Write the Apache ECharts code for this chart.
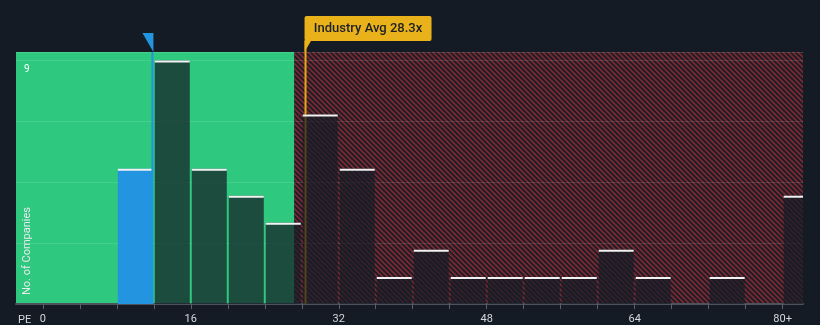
<!DOCTYPE html>
<html><head><meta charset="utf-8">
<script src="https://cdn.jsdelivr.net/npm/echarts@6/dist/echarts.min.js"></script>
<style>html,body{margin:0;padding:0;background:#151b24}#c{width:820px;height:325px}</style>
</head><body><div id="c"></div>
<script>
// ---- data ----
const binLow  = [8, 12, 16, 20, 24, 28, 32, 36, 40, 44, 48, 52, 56, 60, 64, 68, 72, 76, 80];
const binHigh = [12, 16, 20, 24, 28, 32, 36, 40, 44, 48, 52, 56, 60, 64, 68, 72, 76, 80, 84];
const counts  = [5, 9, 5, 4, 3, 7, 5, 1, 2, 1, 1, 1, 1, 2, 1, 0, 1, 0, 4];
const highlightBin = 0;
const companyPE = 11.85;
const industryAvg = 28.3;
const fairZoneEnd = 27.2;
const xMin = -2.9, xMax = 82.2;
const yMax = 9.31;
const xTickValues = [0, 4, 8, 12, 16, 20, 24, 28, 32, 36, 40, 44, 48, 52, 56, 60, 64, 68, 72, 76, 80];
const xLabelValues = [0, 16, 32, 48, 64, 80];
const yLabelValues = [9];

// ---- hatch pattern ----
function hatch() {
  const p = 5, cv = document.createElement('canvas');
  cv.width = p; cv.height = p;
  const ctx = cv.getContext('2d');
  const img = ctx.createImageData(p, p);
  const R = [118, 40, 50], D = [30, 29, 38];
  for (let j = 0; j < p; j++) for (let i = 0; i < p; i++) {
    const k = (j * p + i) * 4;
    const m = ((i - j) % p + p) % p;
    const t = m < 2 ? 1 : (m === 2 ? 0.5 : 0);
    for (let c = 0; c < 3; c++) img.data[k + c] = Math.round(R[c] * t + D[c] * (1 - t));
    img.data[k + 3] = 255;
  }
  ctx.putImageData(img, 0, 0);
  return cv;
}
const hatchPattern = { image: hatch(), repeat: 'repeat' };

const chart = echarts.init(document.getElementById('c'), null, { renderer: 'canvas' });
const barData = binLow.map((l, i) => [l, binHigh[i], counts[i], i === highlightBin ? 1 : 0]);

function clipR(r, cs) {
  return echarts.graphic.clipRectByRect(r, { x: cs.x, y: cs.y, width: cs.width, height: cs.height });
}

chart.setOption({
  backgroundColor: '#151b24',
  animation: false,
  grid: { left: 16, right: 17, top: 52, bottom: 21 },
  xAxis: {
    type: 'value', min: xMin, max: xMax,
    axisLine: { show: true, lineStyle: { color: '#4d525b', width: 2 } },
    axisTick: { show: true, customValues: xTickValues, length: 5, lineStyle: { color: '#5b6069', width: 1 } },
    axisLabel: { customValues: xLabelValues, color: '#d5d9de', fontSize: 11, fontFamily: 'Roboto', margin: 10,
      formatter: v => v === 80 ? '80+' : String(v) },
    splitLine: { show: false }
  },
  yAxis: {
    type: 'value', min: 0, max: yMax, interval: 2.25,
    axisLine: { show: false }, axisTick: { show: false },
    axisLabel: { inside: true, color: '#ffffff', fontSize: 10, fontFamily: 'Roboto', margin: 8,
      verticalAlign: 'top', padding: [4, 0, 0, 0],
      formatter: v => yLabelValues.indexOf(v) >= 0 ? String(v) : '' },
    splitLine: { show: true, lineStyle: { color: 'rgba(255,255,255,0.12)', width: 1 } }
  },
  graphic: [
    { type: 'text', left: 18, top: 315, style: { text: 'PE', fill: '#d5d9de', font: '11px Roboto' } },
    { type: 'text', x: 27, y: 251, rotation: Math.PI / 2,
      style: { text: 'No. of Companies', fill: '#e8eaed', font: '11px Roboto', align: 'center', verticalAlign: 'middle' } }
  ],
  series: [
    { // zones background
      type: 'custom', z: -1, silent: true,
      data: [[xMin, fairZoneEnd, 0], [fairZoneEnd, xMax, 1]],
      renderItem: (params, api) => {
        const p0 = api.coord([api.value(0), yMax]);
        const p1 = api.coord([api.value(1), 0]);
        const r = clipR({ x: p0[0], y: p0[1], width: p1[0] - p0[0], height: p1[1] - p0[1] }, params.coordSys);
        return { type: 'rect', shape: r, style: { fill: api.value(2) === 0 ? '#2ec87f' : hatchPattern } };
      }
    },
    { // industry avg line (under bars)
      type: 'custom', z: 1, silent: true,
      data: [[industryAvg]],
      renderItem: (params, api) => {
        const p = api.coord([api.value(0), 0]);
        return { type: 'line', shape: { x1: p[0] + 1, y1: params.coordSys.y - 11, x2: p[0] + 1, y2: p[1] },
          style: { stroke: '#e9a817', lineWidth: 2 } };
      }
    },
    { // histogram bars
      type: 'custom', z: 2, silent: true,
      data: barData,
      renderItem: (params, api) => {
        const c = api.value(2);
        if (!c) return null;
        const p0 = api.coord([api.value(0), c]);
        const p1 = api.coord([api.value(1), 0]);
        const hi = api.value(3) === 1;
        const r = clipR({ x: p0[0] + 1, y: p0[1], width: p1[0] - p0[0] - 2, height: p1[1] - p0[1] }, params.coordSys);
        if (!r) return null;
        return { type: 'group', children: [
          { type: 'rect', shape: r, style: { fill: hi ? '#2394df' : 'rgba(22,28,38,0.72)' } },
          { type: 'line', shape: { x1: r.x, y1: r.y + 1, x2: r.x + r.width, y2: r.y + 1 },
            style: { stroke: '#f2f2f2', lineWidth: 2 } }
        ] };
      }
    },
    { // company marker
      type: 'custom', z: 4, silent: true, clip: false,
      data: [[companyPE]],
      renderItem: (params, api) => {
        const p = api.coord([api.value(0), 0]);
        const top = params.coordSys.y;
        const x = p[0];
        return { type: 'group', children: [
          { type: 'line', shape: { x1: x, y1: top, x2: x, y2: p[1] }, style: { stroke: '#2394df', lineWidth: 2 } },
          { type: 'polygon', shape: { points: [[x - 10, top - 19], [x + 1, top - 19], [x + 1, top]] }, style: { fill: '#2394df' } }
        ] };
      }
    },
    { // industry avg label
      type: 'custom', z: 5, silent: true, clip: false,
      data: [[industryAvg]],
      renderItem: (params, api) => {
        const p = api.coord([api.value(0), 0]);
        const top = params.coordSys.y;
        const x = p[0];
        return { type: 'group', children: [
          { type: 'polygon', shape: { points: [[x, top - 12], [x + 7, top - 12], [x, top]] }, style: { fill: '#e9b21a' } },
          { type: 'rect', shape: { x: x, y: top - 36, width: 127, height: 25, r: 2 }, style: { fill: '#e9b21a' } },
          { type: 'text', x: x + 63.5, y: top - 23.5,
            style: { text: 'Industry Avg 28.3x', fill: '#1b1f27', font: '500 13px Roboto', align: 'center', verticalAlign: 'middle' } }
        ] };
      }
    }
  ]
});
</script></body></html>
